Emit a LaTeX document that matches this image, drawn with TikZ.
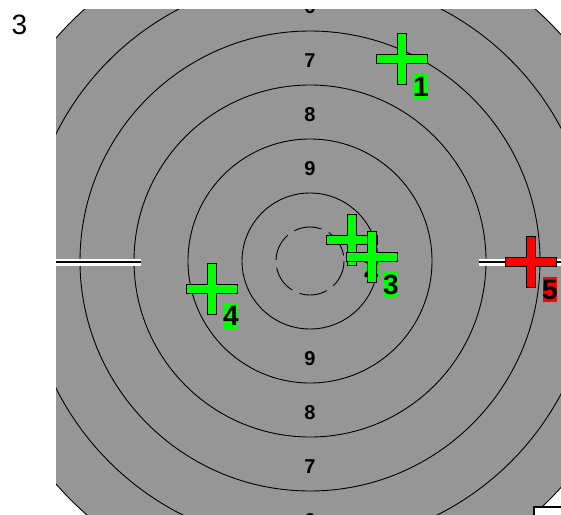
\documentclass[tikz,border=0pt]{standalone}
\usepackage{fontspec}
\setmainfont{Liberation Sans}
\usetikzlibrary{calc}

\definecolor{targetgray}{RGB}{150,150,150}
\definecolor{hitgreen}{RGB}{0,255,0}
\definecolor{hitred}{RGB}{255,0,0}

% one shot: name, x, y, colour, number
\newcommand{\hitmark}[5]{%
  \draw[hitcross, fill=#4, shift={(#2,#3)}]
    (-4.5,-25.5) -- (4.5,-25.5) -- (4.5,-4.5) -- (25.5,-4.5) -- (25.5,4.5)
    -- (4.5,4.5) -- (4.5,25.5) -- (-4.5,25.5) -- (-4.5,4.5) -- (-25.5,4.5)
    -- (-25.5,-4.5) -- (-4.5,-4.5) -- cycle;
  \node[hitlabel, fill=#4] (#1) at (#2+19.5,#3+27.5) {\makebox[0pt]{#5}};
}

\begin{document}
\begin{tikzpicture}[
    x=1pt, y=-1pt,
    ring/.style={draw=black, line width=0.9pt},
    ringnum/.style={font=\fontsize{20}{20}\selectfont\bfseries, inner sep=0pt},
    hitcross/.style={draw=black, line width=1pt, line join=miter},
    hitlabel/.style={
      rectangle, inner sep=0pt, minimum width=14pt, minimum height=25pt,
      font=\fontsize{28}{28}\selectfont\bfseries
    },
    rail/.style={white, line width=2.75pt, double=black, double distance=1.5pt}
  ]
    \useasboundingbox (0,0) rectangle (561,514);

    % ── Sheet number ──
    \node[font=\fontsize{28}{28}\selectfont, inner sep=0pt] (sheet) at (19.5,25) {3};

    \begin{scope}
      \clip (56,9) rectangle (561,514);

      % ── Target face ──
      \fill[targetgray, draw=black, line width=0.9pt] (310,261) circle (338);
      \foreach \r in {68,122,176,230,284}
        \draw[ring] (310,261) circle (\r);
      \draw[ring, dash pattern=on 28pt off 8pt] (310,261) circle (34);

      % ── Ring numbers ──
      \foreach \d/\n in {95/9,149/8,203/7,257/6} {
        \node[ringnum] (top\n) at (310,263.5-\d) {\n};
        \node[ringnum] (bot\n) at (310,263.5+\d) {\n};
      }

      % ── Side rails ──
      \draw[rail] (50,262) -- (141,262);
      \draw[rail] (479,262) -- (570,262);

      % ── Shots ──
      \hitmark{shot1}{401.5}{59}{hitgreen}{1}
      \hitmark{shot2}{352}{240}{hitgreen}{2}
      \hitmark{shot3}{371.5}{257}{hitgreen}{3}
      \hitmark{shot4}{211.5}{288.5}{hitgreen}{4}
      \hitmark{shot5}{530.5}{262}{hitred}{5}

      % ── Corner box ──
      \draw[line width=1.6pt, fill=white] (534,507) rectangle (580,540);
    \end{scope}
  \end{tikzpicture}
\end{document}
